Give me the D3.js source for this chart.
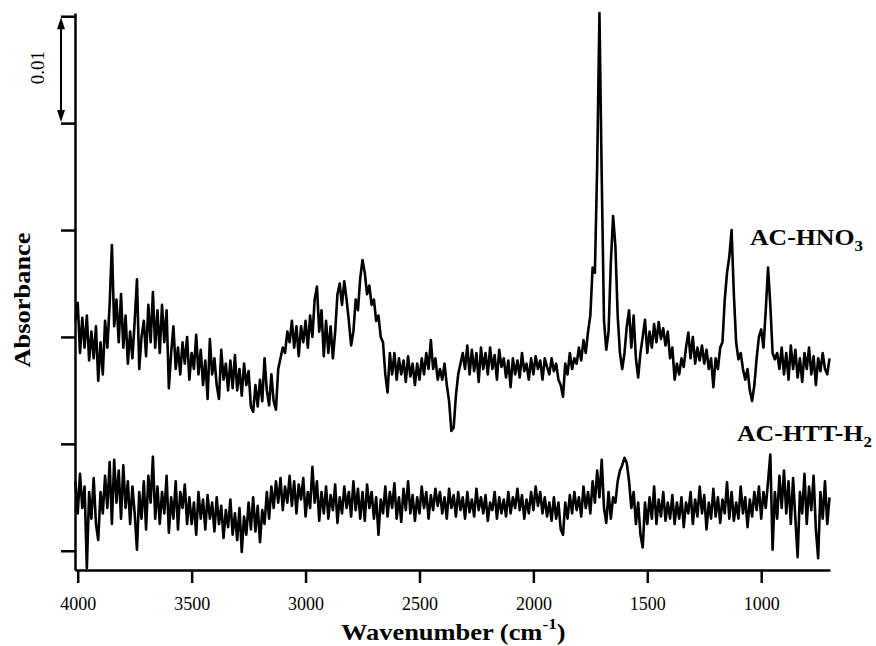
<!DOCTYPE html>
<html><head><meta charset="utf-8">
<script src="https://cdn.jsdelivr.net/npm/d3@7/dist/d3.min.js"></script>
<style>
body{margin:0;background:#fff}
svg{display:block}
text{font-family:"Liberation Serif","Times New Roman",serif;fill:#000}
</style>
</head><body>
<svg id="chart" width="876" height="646"></svg>
<script>
// Sampling grid (cm^-1), 4010 -> 700 every 10 cm^-1
const wavenumbers = d3.range(4010, 695, -10);

// Absorbance in mA (x 0.001)
const hno3 = [
21.5,23.2,18.5,21.8,19.0,22.0,17.8,20.5,18.0,21.0,
15.9,19.5,16.5,21.5,19.0,23.0,28.6,21.0,23.5,19.5,
24.0,19.0,22.0,17.5,20.5,18.0,21.5,25.4,17.0,20.0,
21.5,18.2,23.0,19.5,24.2,19.0,22.5,18.5,23.0,19.5,
22.5,15.2,18.5,21.0,17.0,19.0,16.5,19.5,17.5,20.0,
16.0,18.5,17.0,20.2,16.5,18.8,15.5,17.8,14.2,19.8,
16.5,18.0,15.5,14.2,18.8,16.0,17.5,15.0,17.8,15.2,
18.3,15.0,17.0,14.5,17.5,15.5,16.8,13.5,13.0,15.5,
13.5,16.0,14.0,18.0,15.0,13.6,16.5,14.0,13.2,17.0,
18.0,19.0,18.5,20.5,19.5,21.5,19.0,21.0,18.2,21.0,
19.5,21.5,19.0,22.0,20.0,23.5,24.7,20.5,22.5,18.2,
21.5,18.5,21.0,18.0,20.5,24.0,25.0,23.0,25.2,23.5,
21.5,19.2,20.5,23.5,22.5,25.5,27.2,26.0,24.0,24.8,
23.0,23.5,21.5,22.0,20.0,19.5,16.5,14.8,18.5,16.5,
18.5,16.0,18.0,16.5,17.8,15.8,18.2,16.3,17.5,15.5,
17.5,16.0,18.0,16.5,18.5,17.0,19.7,17.0,18.0,16.0,
17.0,16.0,17.5,15.5,14.0,11.2,11.5,14.5,16.5,17.5,
18.5,17.0,19.2,16.5,18.8,16.8,18.5,15.8,19.0,17.0,
18.5,16.5,19.0,17.0,18.3,16.0,18.8,17.2,18.0,16.2,
17.8,15.3,18.0,16.5,17.8,16.2,18.5,16.8,17.5,16.0,
18.0,16.5,18.2,17.0,17.8,16.0,18.0,17.2,16.5,18.0,
16.8,17.5,16.0,15.5,14.4,17.5,16.5,18.5,17.0,18.0,
17.5,19.0,17.8,19.7,18.5,20.5,22.0,26.5,26.0,36.0,
50.3,35.0,21.5,18.8,20.5,27.0,31.3,28.5,22.0,18.5,
17.0,18.5,21.0,22.5,19.0,22.0,18.0,16.2,18.5,20.0,
21.6,18.5,20.5,19.0,21.2,19.5,21.4,19.8,20.8,19.2,
20.5,18.0,19.0,16.0,17.5,16.5,18.0,17.2,19.0,20.4,
18.0,20.0,17.5,19.0,17.8,19.2,17.5,18.8,17.0,18.0,
15.3,18.0,17.0,19.0,19.5,23.5,26.0,27.5,30.0,24.0,
19.5,17.9,18.5,17.0,16.0,17.0,15.0,14.0,15.5,18.0,
20.0,20.7,19.0,22.5,26.5,23.0,18.5,17.9,18.5,17.0,
19.0,16.5,18.5,16.0,19.2,17.0,18.8,16.2,18.0,15.8,
18.5,17.0,19.0,16.5,18.2,15.5,18.0,16.8,18.5,17.0,
16.5,18.0
];

const htt = [
6.5,3.5,7.2,4.0,6.0,-1.6,5.5,3.0,6.8,2.5,
1.0,5.5,3.5,7.0,4.0,8.3,2.5,8.5,4.5,7.5,
3.0,8.0,4.0,6.5,2.5,6.0,3.5,0.1,5.5,3.0,
6.5,2.0,7.0,4.5,8.8,3.0,6.0,2.5,5.5,3.5,
7.0,1.7,5.0,3.0,6.5,2.0,5.5,4.0,6.2,2.5,
5.0,2.5,4.5,1.5,5.5,3.0,4.8,2.0,5.2,3.0,
4.5,1.8,5.0,2.5,4.2,1.2,3.8,2.2,4.8,1.5,
3.5,1.0,4.0,-0.1,3.2,1.5,4.5,2.0,5.0,1.8,
4.2,0.8,3.8,2.5,5.5,3.0,6.0,4.0,6.5,4.5,
6.8,3.8,6.0,4.5,7.0,4.2,6.5,3.5,6.2,4.8,
6.8,3.2,5.5,4.0,7.85,4.5,6.5,2.8,5.5,3.5,
6.0,3.0,5.2,3.8,6.2,2.6,5.0,3.5,6.0,4.0,
5.5,3.2,6.5,3.8,5.8,3.0,5.5,2.8,6.2,4.0,
5.5,3.0,5.0,1.5,4.8,3.5,6.0,3.2,5.5,4.0,
6.3,3.0,5.0,2.7,5.8,3.8,6.5,3.5,5.2,2.8,
5.0,3.5,6.0,4.0,5.5,3.0,5.2,3.8,5.8,4.2,
5.5,3.5,5.0,3.0,5.8,4.0,5.2,3.2,5.5,3.8,
5.0,3.0,5.5,3.6,4.8,3.2,5.8,3.8,5.0,3.5,
5.2,2.8,4.5,3.8,5.5,3.0,5.0,3.5,4.8,3.2,
5.5,3.5,5.0,4.0,5.8,3.8,5.2,3.0,4.8,3.5,
5.5,3.8,6.0,4.2,5.5,3.5,5.0,3.2,4.5,2.8,
5.0,3.0,4.5,2.0,1.5,4.5,3.0,5.2,3.5,5.5,
3.8,5.0,3.2,6.0,4.0,5.5,3.5,6.5,4.5,7.5,
5.0,8.5,4.0,2.6,5.5,3.0,5.0,4.5,6.5,7.5,
8.0,8.7,8.2,6.5,4.0,5.5,2.5,4.5,1.5,0.3,
4.5,2.5,5.0,3.0,6.0,2.5,4.8,3.2,5.5,2.8,
4.5,3.0,5.2,2.5,4.5,3.0,5.0,2.2,4.5,3.5,
5.5,2.5,4.8,3.2,6.0,3.5,5.2,2.0,4.5,3.0,
5.8,3.2,5.0,2.6,4.8,3.5,6.4,3.0,5.5,2.8,
4.5,3.0,6.0,3.5,5.0,2.2,4.8,3.2,5.5,3.8,
6.0,3.0,5.5,4.0,6.5,9.0,0.1,5.5,3.0,7.0,
4.0,7.5,3.5,6.5,2.5,6.8,3.0,-0.6,5.5,3.5,
7.2,2.5,6.0,3.8,7.0,2.0,-0.7,5.5,3.0,6.5,
2.5,5.0
];

const xTicks = [4000, 3500, 3000, 2500, 2000, 1500, 1000];
const yTicks = [0, 10, 20, 30, 40, 50];   // mA
const scaleBar = [40, 50];                 // 0.01 absorbance
const scaleBarLabel = "0.01";
const seriesLabels = [
  {main: "AC-HNO", sub: "3"},
  {main: "AC-HTT-H", sub: "2"}
];
const xTitle = {main: "Wavenumber (cm", sup: "-1", end: ")"};
const yTitle = "Absorbance";

const svg = d3.select("#chart");
const x = d3.scaleLinear().domain([4012, 698]).range([75, 830]);
const y = d3.scaleLinear().domain([-1.8, 50.3]).range([570, 13]);

// axes
const xAxis = svg.append("g").attr("transform", "translate(0,570)")
  .call(d3.axisBottom(x).tickValues(xTicks).tickSize(13).tickSizeOuter(0).tickFormat(d3.format("d")));
xAxis.select(".domain").attr("stroke", "#000").attr("stroke-width", 2.5);
xAxis.selectAll(".tick line").attr("stroke", "#000").attr("stroke-width", 2.5);
xAxis.selectAll(".tick text").attr("y", 27).attr("font-size", 18)
  .style("font-family", '"Liberation Serif",serif').attr("fill", "#000");

const yAxis = svg.append("g").attr("transform", "translate(75,0)")
  .call(d3.axisLeft(y).tickValues(yTicks).tickSize(14).tickSizeOuter(0).tickFormat(""));
yAxis.select(".domain").attr("stroke", "#000").attr("stroke-width", 2.5);
yAxis.selectAll(".tick line").attr("stroke", "#000").attr("stroke-width", 2.5);

// scale bar double arrow
const ax = 61, yTop = y(scaleBar[1]), yBot = y(scaleBar[0]);
svg.append("line").attr("x1", ax).attr("x2", ax).attr("y1", yTop + 6).attr("y2", yBot - 6)
  .attr("stroke", "#000").attr("stroke-width", 2);
svg.append("path").attr("d", `M${ax},${yTop+1} L${ax-4},${yTop+13} L${ax+4},${yTop+13} Z`).attr("fill", "#000");
svg.append("path").attr("d", `M${ax},${yBot-1} L${ax-4},${yBot-13} L${ax+4},${yBot-13} Z`).attr("fill", "#000");
svg.append("text").attr("transform", `translate(44,${(yTop+yBot)/2 - 2}) rotate(-90)`)
  .attr("text-anchor", "middle").attr("font-size", 19).text(scaleBarLabel);

// spectra
const line = d3.line().x((d, i) => x(wavenumbers[i])).y(d => y(d));
[hno3, htt].forEach(s => {
  svg.append("path").datum(s).attr("d", line).attr("fill", "none")
    .attr("stroke", "#000").attr("stroke-width", 2.6).attr("stroke-linejoin", "round");
});

// series labels
const labelPos = [[750, 245], [737, 441]];
seriesLabels.forEach((l, i) => {
  const t = svg.append("text")
    .attr("transform", `translate(${labelPos[i][0]},${labelPos[i][1]}) scale(1.12,1)`)
    .attr("font-size", 23).attr("font-weight", "bold");
  t.append("tspan").text(l.main);
  t.append("tspan").attr("font-size", 15).attr("dy", 6).text(l.sub);
});

// axis titles
const xt = svg.append("text").attr("transform", "translate(341,640) scale(1.15,1)")
  .attr("font-size", 23).attr("font-weight", "bold");
xt.append("tspan").text(xTitle.main);
xt.append("tspan").attr("font-size", 15).attr("dy", -11).text(xTitle.sup);
xt.append("tspan").attr("dy", 11).text(xTitle.end);

svg.append("text").attr("transform", "translate(30,300) rotate(-90) scale(1.15,1)")
  .attr("text-anchor", "middle").attr("font-size", 23).attr("font-weight", "bold").text(yTitle);
</script>
</body></html>
